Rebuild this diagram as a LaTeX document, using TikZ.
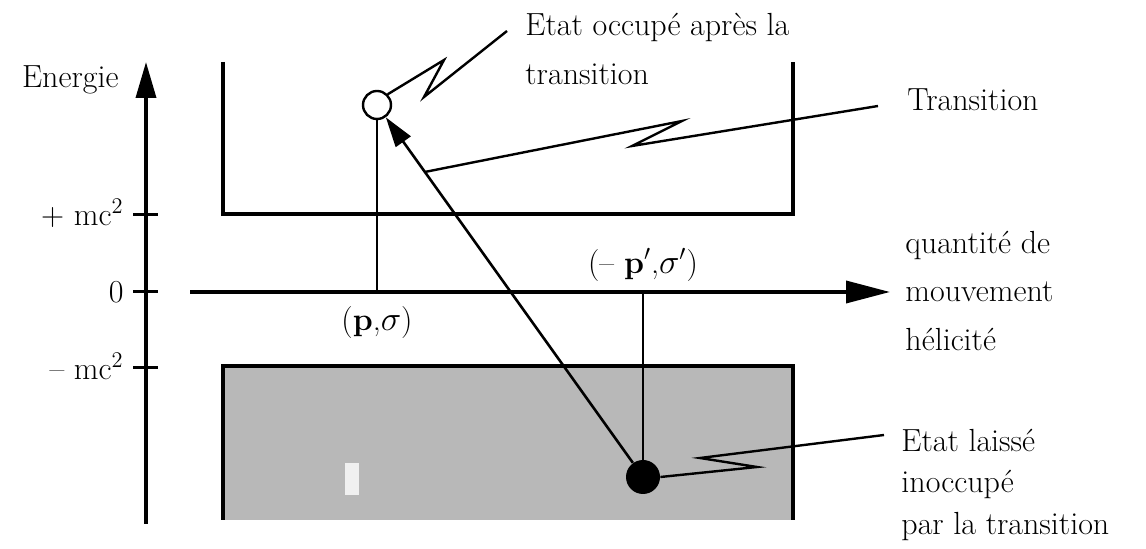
\documentclass[tikz,border=0pt]{standalone}
\usetikzlibrary{arrows.meta,calc}
\begin{document}
\begin{tikzpicture}[x=0.5pt,y=-0.5pt,
  line cap=butt,
  lbl/.style={inner sep=0pt,font=\fontsize{16}{18}\selectfont},
  axisline/.style={line width=1.8pt},
  boxline/.style={line width=1.6pt},
  thinline/.style={line width=1.3pt},
  zig/.style={line width=1.2pt,line join=miter},
  tick/.style={line width=1.5pt}]
\useasboundingbox[fill=white] (0,0) rectangle (1146,549);

% lower (filled) band
\fill[black!28] (223,366) rectangle (793,520);
\fill[black!6] (345,463) rectangle (359,495);
\draw[boxline] (223,520) -- (223,366) -- (793,366) -- (793,520);

% upper band
\draw[boxline] (223,62) -- (223,214) -- (793,214) -- (793,62);

% energy axis
\coordinate (eb) at (146,524);
\coordinate (et) at (146,62);
\draw[axisline,-{Triangle[length=18pt,width=10pt]}] (eb) -- (et);
\node[lbl,anchor=east] (energie) at (119,80) {Energie};

% ticks
\draw[tick] (133,215) -- (158,215);
\draw[tick] (133,292) -- (158,292);
\draw[tick] (133,368) -- (158,368);
\node[lbl,anchor=east] (lplus) at (124,213) {+ mc\textsuperscript{2}};
\node[lbl,anchor=east] (lzero) at (124,292) {0};
\node[lbl,anchor=east] (lminus) at (124,366) {-- mc\textsuperscript{2}};

% momentum axis
\coordinate (ha) at (190,292);
\coordinate (hb) at (890,292);
\draw[axisline,-{Triangle[length=22pt,width=11pt]}] (ha) -- (hb);
\node[lbl,anchor=west] (q1) at (905,245) {quantité de};
\node[lbl,anchor=west] (q2) at (905,292) {mouvement};
\node[lbl,anchor=west] (q3) at (905,339) {hélicité};

% states
\node[circle,draw,line width=1.2pt,fill=white,minimum size=14,inner sep=0pt] (occ) at (377,105) {};
\node[circle,fill=black,minimum size=17,inner sep=0pt] (vac) at (643,477) {};
\coordinate (occfoot) at (377,292);
\coordinate (vactop) at (643,292);
\draw[thinline] (occ.south) -- (occfoot);
\draw[thinline] (vactop) -- (vac.north);
\node[lbl] (pl) at (377,323) {(\textbf{p},$\sigma$)};
\node[lbl] (pr) at (643,265) {(-- \textbf{p}$'$,$\sigma'$)};

% transition arrow
\draw[thinline,-{Triangle[length=15pt,width=9pt]}] (vac) -- (occ);

% zigzag pointers
\coordinate (z1a) at (444,60);
\coordinate (z1b) at (424,97);
\coordinate (z1c) at (507,31);
\draw[zig] (occ.north east) -- (z1a) -- (z1b) -- (z1c);
\node[lbl,anchor=west] (occA) at (525,27) {Etat occupé après la};
\node[lbl,anchor=west] (occB) at (525,74) {transition};

\coordinate (z2s) at ($(vac)!0.82!(occ)$);
\coordinate (z2a) at (682,121);
\coordinate (z2b) at (632,146);
\coordinate (z2c) at (878,106);
\draw[zig] (z2s) -- (z2a) -- (z2b) -- (z2c);
\node[lbl,anchor=west] (trans) at (907,100) {Transition};

\coordinate (z3a) at (757,467);
\coordinate (z3b) at (700,458);
\coordinate (z3c) at (884,435);
\draw[zig] (vac.east) -- (z3a) -- (z3b) -- (z3c);
\node[lbl,anchor=west] (vA) at (901,440) {Etat laissé};
\node[lbl,anchor=west] (vB) at (901,484) {inoccupé};
\node[lbl,anchor=west] (vC) at (901,527) {par la transition};
\end{tikzpicture}
\end{document}
